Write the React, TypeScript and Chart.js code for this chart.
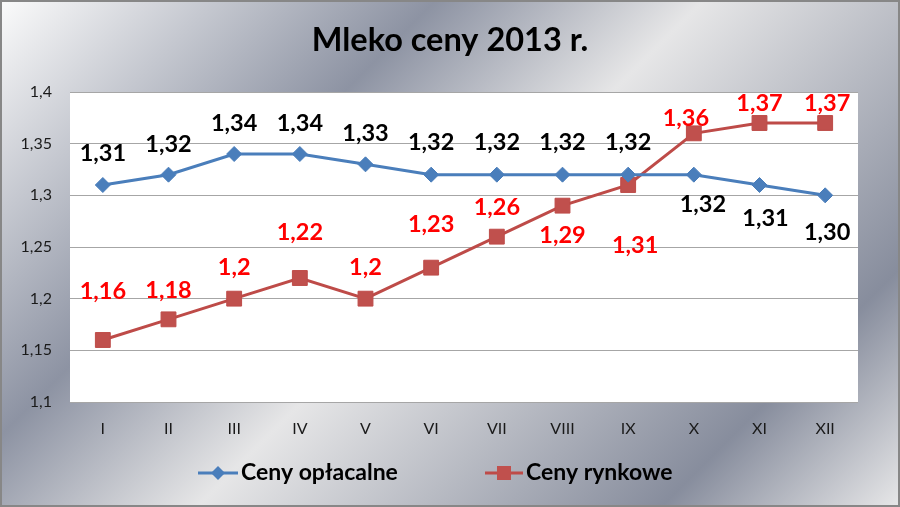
import { useEffect, useRef } from 'react';
import { Chart, registerables } from 'chart.js';

Chart.register(...registerables);

// ---- data ----
const titleText = 'Mleko ceny 2013 r.';
const categories = ['I', 'II', 'III', 'IV', 'V', 'VI', 'VII', 'VIII', 'IX', 'X', 'XI', 'XII'];
const seriesNames = ['Ceny opłacalne', 'Ceny rynkowe'];
const cenyOplacalne = [1.31, 1.32, 1.34, 1.34, 1.33, 1.32, 1.32, 1.32, 1.32, 1.32, 1.31, 1.3];
const cenyRynkowe = [1.16, 1.18, 1.2, 1.22, 1.2, 1.23, 1.26, 1.29, 1.31, 1.36, 1.37, 1.37];
const yMin = 1.1;
const yMax = 1.4;
const yStep = 0.05;

// ---- label placement (pixels, positive = above the point) ----
const blueLabelDy = [32, 30, 31, 31, 31, 32, 32, 32, 32, -30, -33, -37];
const blueLabelDx = [0, 0, 0, 0, 0, 0, 0, 0, 0, 9, 6, 2];
const redLabelDy = [49, 29, 31, 46, 31, 43, 29, -30, -60, 15, 20, 20];
const redLabelDx = [0, 0, 0, 0, 0, 0, 0, 0, 7, -8, 0, 2];

const BLUE = '#4a7ebb';
const RED = '#be4b48';
const FONT = 'Lato, "Open Sans", sans-serif';

const commaNum = (v: number) => String(Number(v.toFixed(2))).replace('.', ',');
const comma2 = (v: number) => v.toFixed(2).replace('.', ',');

const decorPlugin = {
  id: 'decor',
  beforeDraw(chart: any) {
    const { ctx, width, height, chartArea } = chart;
    ctx.save();
    const g = ctx.createLinearGradient(0, 0, 704, 704);
    g.addColorStop(0, '#fbfbfb');
    g.addColorStop(0.31, '#8d93a3');
    g.addColorStop(0.5, '#e6e6e7');
    g.addColorStop(0.83, '#878d9d');
    g.addColorStop(1, '#e8e8e9');
    ctx.fillStyle = g;
    ctx.fillRect(0, 0, width, height);
    ctx.strokeStyle = '#878787';
    ctx.lineWidth = 2;
    ctx.strokeRect(1, 1, width - 2, height - 2);
    ctx.fillStyle = '#ffffff';
    ctx.fillRect(chartArea.left, chartArea.top, chartArea.right - chartArea.left, chartArea.bottom - chartArea.top);
    ctx.restore();
  },
  afterDatasetsDraw(chart: any) {
    const { ctx } = chart;
    ctx.save();
    ctx.font = `bold 23.5px ${FONT}`;
    ctx.textAlign = 'center';
    ctx.textBaseline = 'middle';
    const cfgs = [
      { vals: cenyOplacalne, dy: blueLabelDy, dx: blueLabelDx, color: '#000000', fmt: comma2 },
      { vals: cenyRynkowe, dy: redLabelDy, dx: redLabelDx, color: '#ff0000', fmt: commaNum },
    ];
    cfgs.forEach((c, di) => {
      const meta = chart.getDatasetMeta(di);
      meta.data.forEach((pt: any, i: number) => {
        ctx.fillStyle = c.color;
        ctx.fillText(c.fmt(c.vals[i]), pt.x + c.dx[i], pt.y - c.dy[i]);
      });
    });
    ctx.restore();
  },
  afterDraw(chart: any) {
    const { ctx } = chart;
    ctx.save();
    // title
    ctx.fillStyle = '#000000';
    ctx.font = `bold 32.5px ${FONT}`;
    ctx.textAlign = 'center';
    ctx.textBaseline = 'middle';
    ctx.fillText(titleText, 450, 41);
    // legend
    const ly = 473;
    ctx.font = `bold 23px ${FONT}`;
    ctx.textAlign = 'left';
    // blue item
    ctx.strokeStyle = BLUE;
    ctx.lineWidth = 3;
    ctx.beginPath();
    ctx.moveTo(198, ly);
    ctx.lineTo(238, ly);
    ctx.stroke();
    ctx.fillStyle = BLUE;
    ctx.beginPath();
    ctx.moveTo(218 - 7, ly);
    ctx.lineTo(218, ly - 7);
    ctx.lineTo(218 + 7, ly);
    ctx.lineTo(218, ly + 7);
    ctx.closePath();
    ctx.fill();
    ctx.fillStyle = '#000000';
    ctx.fillText(seriesNames[0], 241, ly);
    // red item
    ctx.strokeStyle = RED;
    ctx.beginPath();
    ctx.moveTo(485, ly);
    ctx.lineTo(523, ly);
    ctx.stroke();
    ctx.fillStyle = '#c0504d';
    ctx.fillRect(504 - 7, ly - 7, 14, 14);
    ctx.fillStyle = '#000000';
    ctx.fillText(seriesNames[1], 526, ly);
    ctx.restore();
  },
};

export default function App() {
  const ref = useRef<HTMLCanvasElement | null>(null);
  useEffect(() => {
    document.body.style.margin = '0';
    if (!ref.current) return;
    const chart = new Chart(ref.current, {
      type: 'line',
      data: {
        labels: categories,
        datasets: [
          {
            label: seriesNames[0],
            data: cenyOplacalne,
            borderColor: BLUE,
            backgroundColor: BLUE,
            borderWidth: 3,
            pointStyle: 'rectRot',
            pointRadius: 7.5,
            pointBorderWidth: 1,
            pointBackgroundColor: BLUE,
            pointBorderColor: BLUE,
            tension: 0,
          },
          {
            label: seriesNames[1],
            data: cenyRynkowe,
            borderColor: RED,
            backgroundColor: '#c0504d',
            borderWidth: 3,
            pointStyle: 'rect',
            pointRadius: 10.5,
            pointBorderWidth: 1,
            pointBackgroundColor: '#c0504d',
            pointBorderColor: RED,
            tension: 0,
          },
        ],
      },
      options: {
        responsive: false,
        animation: false,
        layout: { padding: { left: 0, right: 42, top: 92, bottom: 65 } },
        plugins: {
          legend: { display: false },
          title: { display: false },
          tooltip: { enabled: false },
        },
        scales: {
          x: {
            offset: true,
            grid: { display: false, drawTicks: false },
            border: { display: false },
            ticks: { color: '#1a1a1a', font: { family: FONT, size: 16 }, padding: 17, maxRotation: 0, autoSkip: false },
            afterFit: (s: any) => { s.height = 40; },
          },
          y: {
            min: yMin,
            max: yMax,
            grid: { color: '#a6a6a6', lineWidth: 1, drawTicks: false },
            border: { display: false },
            ticks: {
              stepSize: yStep,
              color: '#1a1a1a',
              font: { family: FONT, size: 16 },
              padding: 18,
              callback: (v: any) => commaNum(Number(v)),
            },
            afterFit: (s: any) => { s.width = 70; },
          },
        },
      },
      plugins: [decorPlugin],
    });
    return () => chart.destroy();
  }, []);
  return (
    <div style={{ width: 900, height: 507 }}>
      <canvas ref={ref} width={900} height={507} style={{ display: 'block' }} />
    </div>
  );
}
